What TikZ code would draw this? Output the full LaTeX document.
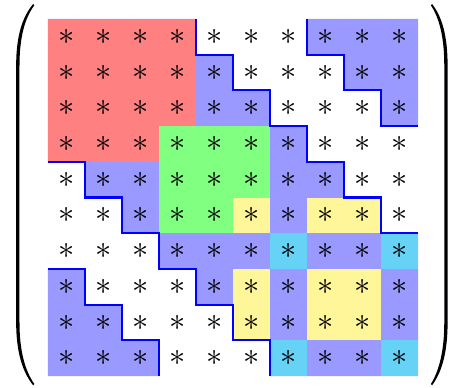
\documentclass[tikz,border=0pt]{standalone}
\usepackage{tikz}
\usetikzlibrary{positioning}
\definecolor{blockred}{RGB}{255,128,128}
\definecolor{blockgreen}{RGB}{128,255,128}
\definecolor{bandblue}{RGB}{153,153,255}
\definecolor{blockyellow}{RGB}{255,245,153}
\definecolor{blockcyan}{RGB}{102,210,245}
\tikzset{
  bandline/.style={draw=blue,line width=1.6pt},
  entry/.style={inner sep=0pt,font=\Huge},
}

\begin{document}
\begin{tikzpicture}[x=1cm,y=-0.965cm]
\useasboundingbox (-1.297,-0.532) rectangle (10.838,10.308);

\fill[bandblue] (0,0) -- (4,0) -- (4,1) -- (5,1) -- (5,2) -- (6,2) -- (6,3) -- (7,3) -- (7,4)
  -- (8,4) -- (8,5) -- (9,5) -- (9,6) -- (10,6) -- (10,10) -- (6,10) -- (6,9) -- (5,9)
  -- (5,8) -- (4,8) -- (4,7) -- (3,7) -- (3,6) -- (2,6) -- (2,5) -- (1,5) -- (1,4) -- (0,4) -- cycle;
\fill[bandblue] (7,0) -- (10,0) -- (10,3) -- (9,3) -- (9,2) -- (8,2) -- (8,1) -- (7,1) -- cycle;
\fill[bandblue] (0,7) -- (1,7) -- (1,8) -- (2,8) -- (2,9) -- (3,9) -- (3,10) -- (0,10) -- cycle;

\fill[blockred] (0,0) rectangle (4,4);
\fill[blockgreen] (3,3) rectangle (6,6);
\foreach \i in {5,7,8}
  \foreach \j in {5,7,8}
    \fill[blockyellow] (\j,\i) rectangle ++(1,1);
\foreach \i in {6,9}
  \foreach \j in {6,9}
    \fill[blockcyan] (\j,\i) rectangle ++(1,1);

\draw[bandline] (4,0) -- (4,1) -- (5,1) -- (5,2) -- (6,2) -- (6,3) -- (7,3) -- (7,4)
  -- (8,4) -- (8,5) -- (9,5) -- (9,6) -- (10,6);
\draw[bandline] (0,4) -- (1,4) -- (1,5) -- (2,5) -- (2,6) -- (3,6) -- (3,7) -- (4,7)
  -- (4,8) -- (5,8) -- (5,9) -- (6,9) -- (6,10);
\draw[bandline] (7,0) -- (7,1) -- (8,1) -- (8,2) -- (9,2) -- (9,3) -- (10,3);
\draw[bandline] (0,7) -- (1,7) -- (1,8) -- (2,8) -- (2,9) -- (3,9) -- (3,10);

\foreach \r in {0,...,9}
  \foreach \c in {0,...,9}
    \node[entry] (a-\r-\c) at (\c+0.5,\r+0.5) {$\ast$};

\fill (-0.40,-0.42) .. controls (-0.68,-0.08) and (-0.86,0.45) .. (-0.86,1.3) -- (-0.86,8.5)
  .. controls (-0.86,9.35) and (-0.68,9.9) .. (-0.40,10.26) -- (-0.37,10.22)
  .. controls (-0.62,9.85) and (-0.77,9.3) .. (-0.77,8.5) -- (-0.77,1.3)
  .. controls (-0.77,0.5) and (-0.62,-0.04) .. (-0.37,-0.38) -- cycle;
\fill (10.38,-0.42) .. controls (10.64,-0.08) and (10.80,0.45) .. (10.80,1.3) -- (10.80,8.5)
  .. controls (10.80,9.35) and (10.64,9.9) .. (10.38,10.26) -- (10.35,10.22)
  .. controls (10.57,9.85) and (10.71,9.3) .. (10.71,8.5) -- (10.71,1.3)
  .. controls (10.71,0.5) and (10.57,-0.04) .. (10.35,-0.38) -- cycle;
\end{tikzpicture}
\end{document}
